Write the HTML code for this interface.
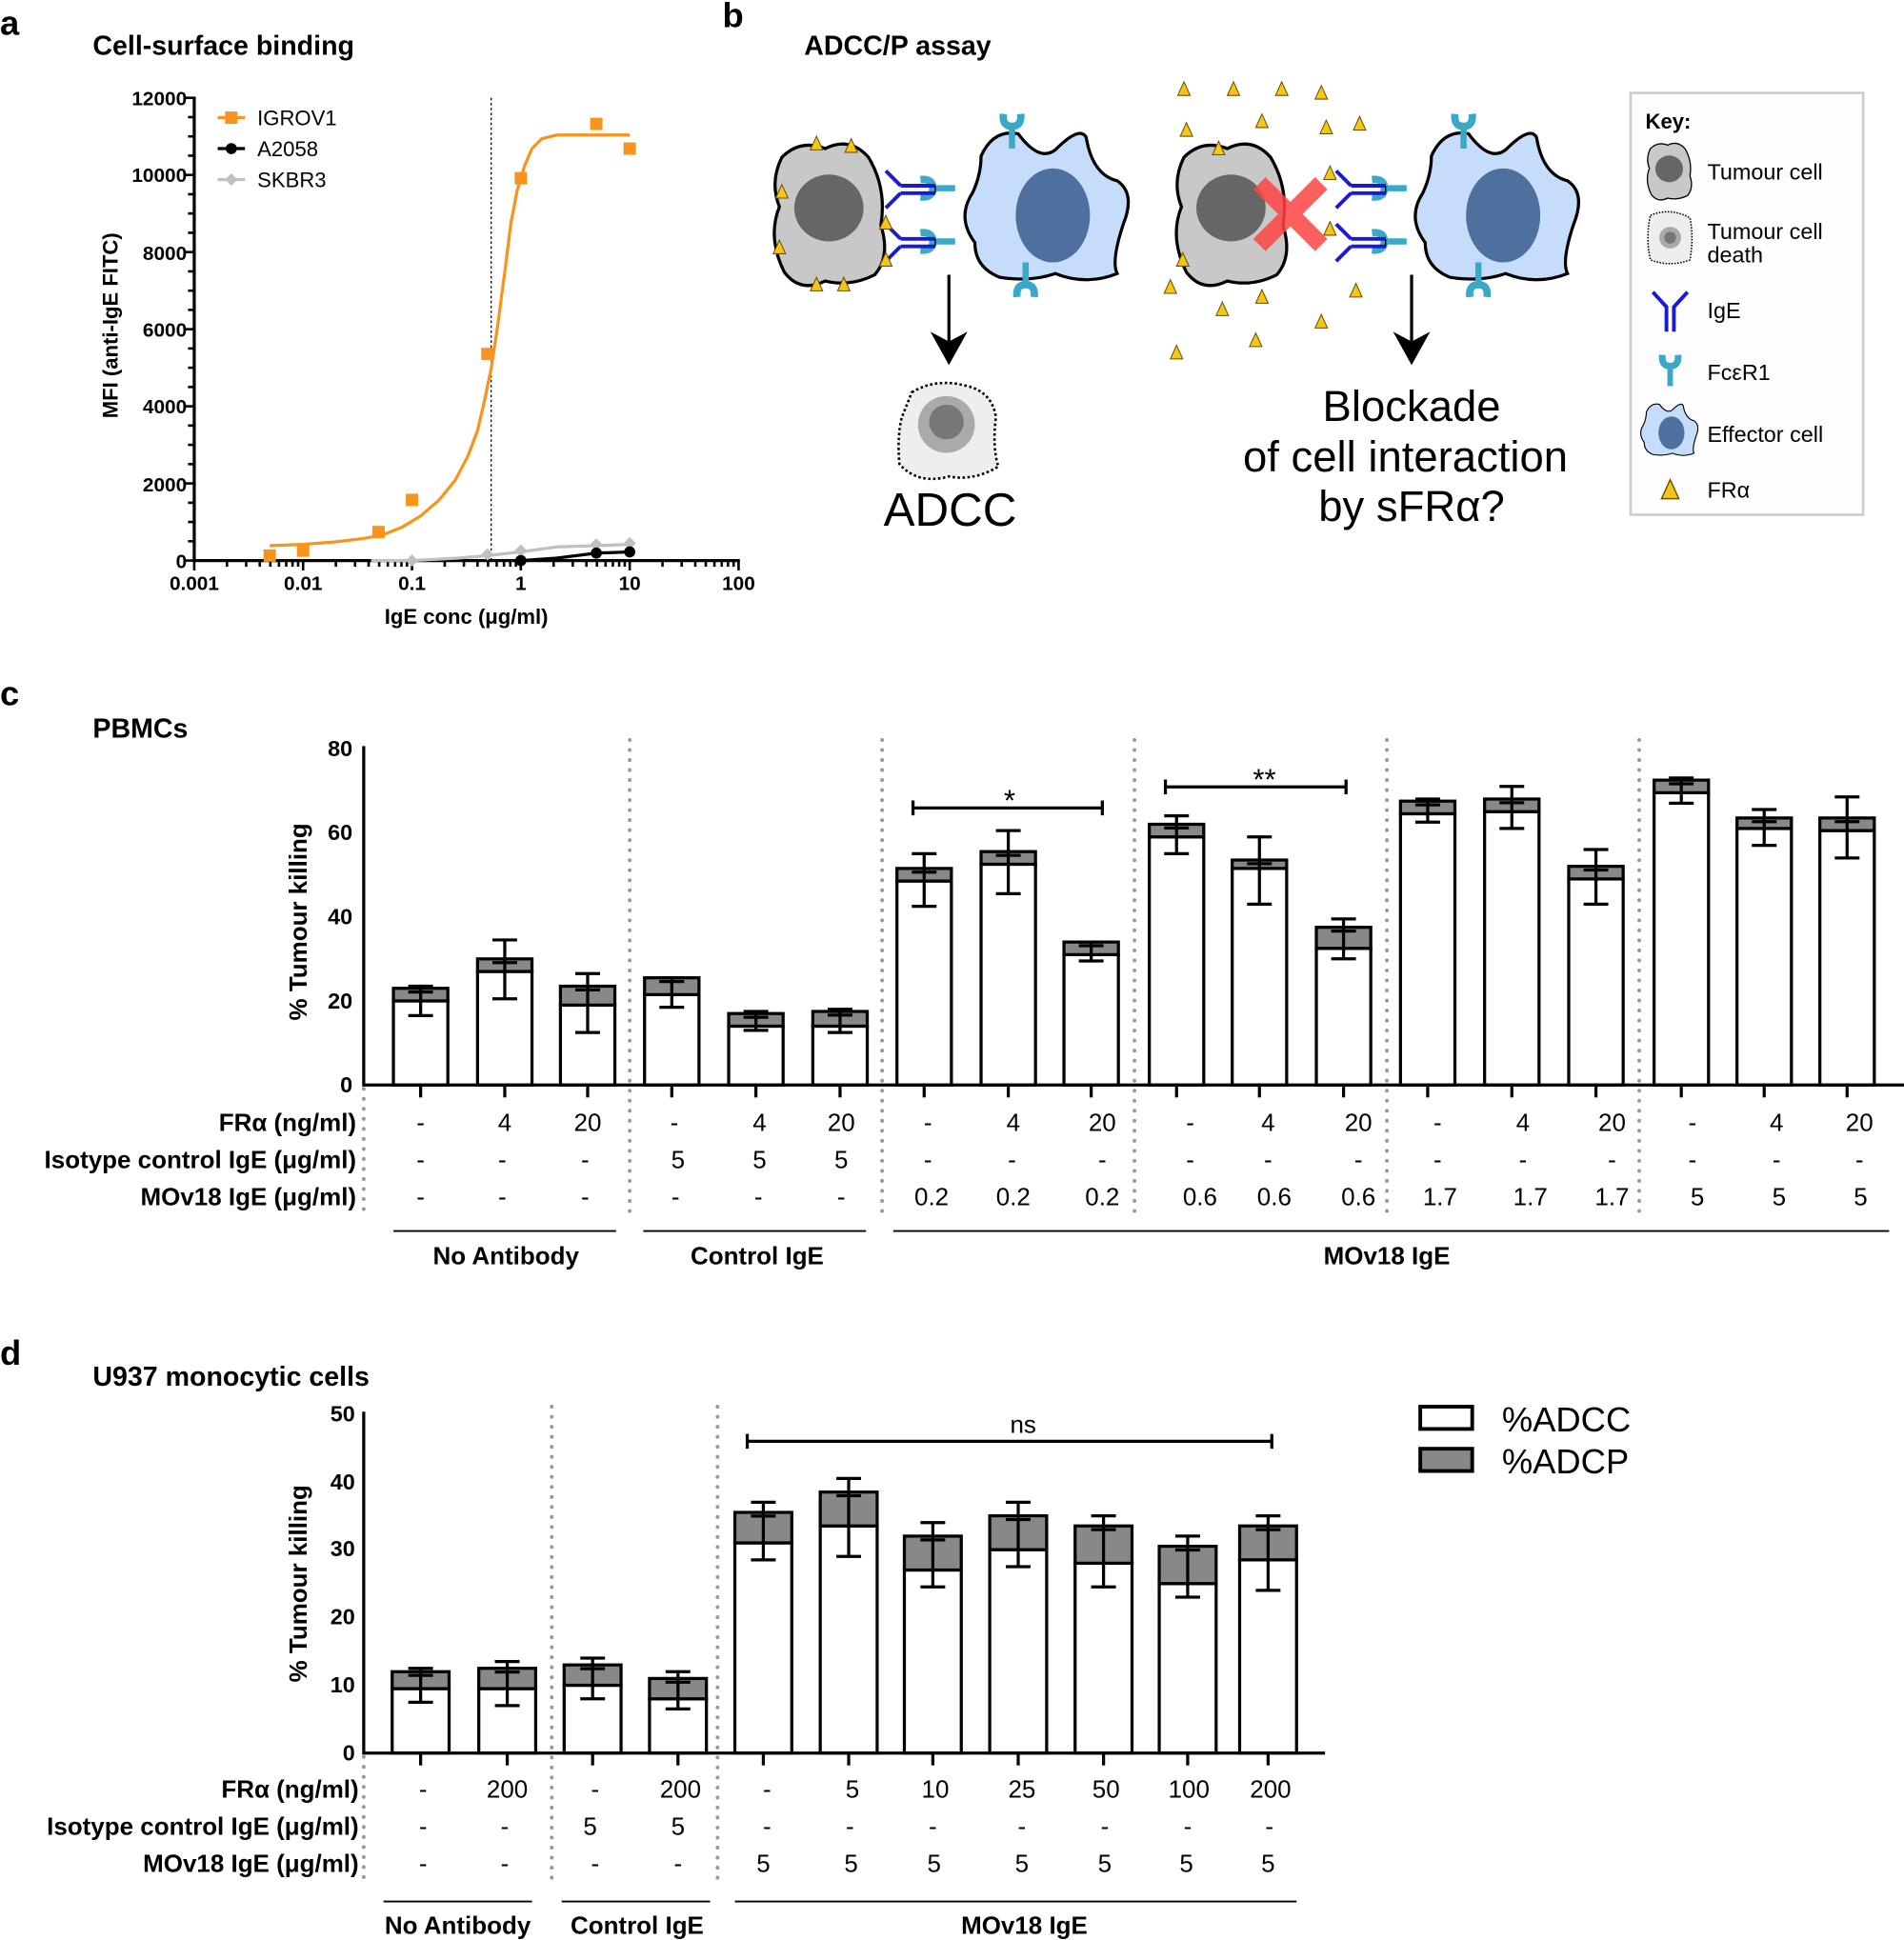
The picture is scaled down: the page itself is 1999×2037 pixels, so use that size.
<!DOCTYPE html>
<html><head><meta charset="utf-8"><style>
html,body{margin:0;padding:0;background:#fff;}
svg{display:block;}
text{font-family:"Liberation Sans",Arial,sans-serif;}
.b{font-weight:bold;}
</style></head><body>
<svg id="s" width="1999" height="2037" viewBox="0 0 1539 1568" xmlns="http://www.w3.org/2000/svg">
<rect width="1539" height="1568" fill="#fff"/>
<g class="b" font-size="28" font-weight="bold">
<text x="0" y="28">a</text><text x="584" y="22">b</text><text x="0" y="570">c</text><text x="0" y="1103">d</text>
</g>
<g font-size="22" font-weight="bold">
<text x="75" y="44">Cell-surface binding</text>
<text x="650" y="44">ADCC/P assay</text>
<text x="75" y="596">PBMCs</text>
<text x="75" y="1120">U937 monocytic cells</text>
</g>

<!-- ===== Panel a ===== -->
<g stroke="#000" stroke-width="2.5" fill="none">
<line x1="157" y1="78" x2="157" y2="454"/>
<line x1="156" y1="453" x2="598" y2="453"/>
</g>
<g stroke="#000" stroke-width="2" id="aticks"></g>
<g font-size="16" font-weight="bold" text-anchor="end">
<text x="151" y="459">0</text><text x="151" y="397">2000</text><text x="151" y="334">4000</text>
<text x="151" y="272">6000</text><text x="151" y="210">8000</text><text x="151" y="147">10000</text><text x="151" y="85">12000</text>
</g>
<g font-size="16" font-weight="bold" text-anchor="middle">
<text x="157" y="477">0.001</text><text x="245" y="477">0.01</text><text x="333" y="477">0.1</text>
<text x="421" y="477">1</text><text x="509" y="477">10</text><text x="597" y="477">100</text>
<text x="377" y="504" font-size="17">IgE conc (μg/ml)</text>
<text transform="translate(95,263) rotate(-90)" font-size="17">MFI (anti-IgE FITC)</text>
</g>
<line x1="397" y1="79" x2="397" y2="453" stroke="#000" stroke-width="1" stroke-dasharray="2,2"/>
<polyline fill="none" stroke="#f7941d" stroke-width="2.5" points="218,441 245,440 270,438 295,435 310,432 325,426 340,417 355,404 368,388 378,369 386,348 392,322 397,298 402,265 408,220 413,180 418,154 424,134 430,120 438,112 450,109 470,109 509,109"/>
<polyline fill="none" stroke="#c0c0c0" stroke-width="2.5" points="300,453 333,453 370,451 394,449 421,446 450,442 482,441 509,440"/>
<polyline fill="none" stroke="#000" stroke-width="2.5" points="421,453 450,451 482,447 509,446"/>
<g fill="#f7941d">
<rect x="213" y="444" width="10" height="10"/><rect x="240" y="440" width="10" height="10"/><rect x="301" y="425" width="10" height="10"/>
<rect x="328" y="399" width="10" height="10"/><rect x="389" y="281" width="10" height="10"/><rect x="416" y="139" width="10" height="10"/>
<rect x="477" y="95" width="10" height="10"/><rect x="504" y="115" width="10" height="10"/>
</g>
<g fill="#c0c0c0"><path d="M333,448 l5,5 -5,5 -5,-5z M394,443 l5,5 -5,5 -5,-5z M421,440 l5,5 -5,5 -5,-5z M482,435 l5,5 -5,5 -5,-5z M509,434 l5,5 -5,5 -5,-5z"/></g>
<g fill="#000"><circle cx="421" cy="453" r="4.5"/><circle cx="482" cy="447" r="4.5"/><circle cx="509" cy="446" r="4.5"/></g>
<line x1="176" y1="95" x2="198" y2="95" stroke="#f7941d" stroke-width="2.5"/><rect x="182" y="90" width="10" height="10" fill="#f7941d"/>
<line x1="176" y1="120" x2="198" y2="120" stroke="#000" stroke-width="2.5"/><circle cx="187" cy="120" r="4.5"/>
<line x1="176" y1="145" x2="198" y2="145" stroke="#c0c0c0" stroke-width="2.5"/><path d="M187,140 l5,5 -5,5 -5,-5z" fill="#c0c0c0"/>
<g font-size="17"><text x="208" y="101">IGROV1</text><text x="208" y="126">A2058</text><text x="208" y="151">SKBR3</text></g>

<!-- ===== Panel b ===== -->
<defs>
<g id="tum">
<path d="M-40,-45 Q-25,-60 -5,-52 Q15,-62 30,-45 Q45,-20 40,10 Q48,35 35,50 Q15,60 -5,55 Q-25,65 -38,48 Q-52,20 -42,-5 Q-50,-25 -40,-45z" fill="#c8c8c8" stroke="#000" stroke-width="2.5"/>
<ellipse cx="-2" cy="-4" rx="28" ry="27" fill="#666"/>
</g>
<g id="eff">
<path d="M-55,-40 Q-45,-62 -25,-58 Q-8,-35 5,-45 Q25,-65 30,-55 Q35,-25 55,-20 Q70,-10 60,15 Q50,45 55,55 Q30,65 5,55 Q-15,62 -40,58 Q-60,50 -60,30 Q-75,10 -62,-10 Q-55,-25 -55,-40z" fill="#c5dcfa" stroke="#000" stroke-width="2.5"/>
<ellipse cx="3" cy="8" rx="30" ry="38" fill="#4f6f9e"/>
</g>
<path id="tri" d="M0,-6 L5,5 L-5,5z" fill="#f5c518" stroke="#6b5200" stroke-width="0.8"/>
<g id="rec" fill="none" stroke="#3aa9c8" stroke-width="5"><line x1="0" y1="0" x2="0" y2="-18"/><path d="M-7,-28 Q-8,-18 0,-18 Q8,-18 7,-28" stroke-width="6"/></g>
<g id="ige" fill="none" stroke="#1a1ad0" stroke-width="3"><path d="M0,-3 H28 M0,3 H28 M0,-3 L-12,-15 M0,3 L-12,15"/><path d="M28,-3 V3" stroke="#000" stroke-width="1"/></g>
</defs>
<use href="#tum" x="672" y="172"/>
<use href="#eff" x="848" y="166"/>
<use href="#rec" transform="translate(818,120)"/>
<use href="#rec" transform="translate(829,212) rotate(180)"/>
<use href="#rec" transform="translate(772,152) rotate(-90)"/>
<use href="#rec" transform="translate(772,195) rotate(-90)"/>
<use href="#ige" x="728" y="153"/><use href="#ige" x="728" y="196"/>
<use href="#tum" x="997" y="172"/>
<use href="#eff" x="1212" y="166"/>
<use href="#rec" transform="translate(1183,120)"/>
<use href="#rec" transform="translate(1195,212) rotate(180)"/>
<use href="#rec" transform="translate(1137,152) rotate(-90)"/>
<use href="#rec" transform="translate(1137,195) rotate(-90)"/>
<use href="#ige" x="1092" y="153"/><use href="#ige" x="1092" y="196"/>
<g>
<use href="#tri" x="660" y="116"/><use href="#tri" x="688" y="118"/><use href="#tri" x="630" y="200"/><use href="#tri" x="632" y="155"/><use href="#tri" x="660" y="230"/><use href="#tri" x="682" y="230"/><use href="#tri" x="716" y="180"/><use href="#tri" x="716" y="210"/>
<use href="#tri" x="957" y="72"/><use href="#tri" x="997" y="72"/><use href="#tri" x="1036" y="72"/><use href="#tri" x="1068" y="75"/>
<use href="#tri" x="959" y="105"/><use href="#tri" x="1020" y="98"/><use href="#tri" x="1072" y="103"/><use href="#tri" x="1099" y="100"/>
<use href="#tri" x="946" y="232"/><use href="#tri" x="1020" y="240"/><use href="#tri" x="1096" y="235"/><use href="#tri" x="988" y="250"/>
<use href="#tri" x="1068" y="260"/><use href="#tri" x="1015" y="275"/><use href="#tri" x="951" y="285"/>
<use href="#tri" x="985" y="120"/><use href="#tri" x="956" y="210"/><use href="#tri" x="1075" y="185"/><use href="#tri" x="1075" y="140"/>
</g>
<g stroke="#f44" stroke-width="14" opacity="0.85"><line x1="1018" y1="148" x2="1068" y2="198"/><line x1="1068" y1="148" x2="1018" y2="198"/></g>
<g stroke="#000" stroke-width="2.5"><line x1="767" y1="222" x2="767" y2="285"/><line x1="1141" y1="222" x2="1141" y2="285"/></g>
<path d="M752,268 L767,295 L782,268 L767,276z M1126,268 L1141,295 L1156,268 L1141,276z"/>
<g transform="translate(767,347)">
<path d="M-30,-30 Q-10,-42 15,-35 Q35,-30 38,-10 Q35,15 40,30 Q20,42 0,38 Q-25,45 -40,28 Q-42,5 -38,-10z" fill="#eee" stroke="#000" stroke-width="2" stroke-dasharray="2,2"/>
<circle cx="-2" cy="-4" r="23" fill="#aaa"/><circle cx="-2" cy="-6" r="14" fill="#777"/>
</g>
<text x="768" y="425" font-size="38" text-anchor="middle">ADCC</text>
<g font-size="35" text-anchor="middle"><text x="1141" y="340">Blockade</text><text x="1136" y="381">of cell interaction</text><text x="1141" y="421">by sFRα?</text></g>
<rect x="1318" y="75" width="188" height="341" fill="#fdfdfd" stroke="#ccc" stroke-width="2"/>
<text x="1330" y="104" font-size="17" font-weight="bold">Key:</text>
<g transform="translate(1350,138) scale(0.4)"><use href="#tum"/></g>
<g transform="translate(1350,192) scale(0.4)"><path d="M-40,-45 Q0,-62 40,-40 Q48,0 40,45 Q0,60 -40,45 Q-50,0 -40,-45z" fill="#eee" stroke="#000" stroke-dasharray="3,3" stroke-width="3"/><circle r="22" fill="#aaa"/><circle r="12" fill="#777"/></g>
<g transform="translate(1350,250)" fill="none" stroke="#1a1ad0" stroke-width="3"><path d="M-3,18 V-2 L-14,-14 M3,18 V-2 L14,-14"/></g>
<use href="#rec" transform="translate(1350,312) scale(0.9)"/>
<g transform="translate(1350,347) scale(0.35)"><use href="#eff"/></g>
<use href="#tri" transform="translate(1350,396) scale(1.4)"/>
<g font-size="18"><text x="1380" y="145">Tumour cell</text><text x="1380" y="193">Tumour cell</text><text x="1380" y="212">death</text><text x="1380" y="257">IgE</text><text x="1380" y="307">FcεR1</text><text x="1380" y="357">Effector cell</text><text x="1380" y="402">FRα</text></g>

<!-- ===== Panel c ===== -->
<g id="cbars"></g>
<g stroke="#000" stroke-width="2.5"><line x1="294" y1="603" x2="294" y2="878"/><line x1="293" y1="877" x2="1539" y2="877"/></g>
<g font-size="18" font-weight="bold" text-anchor="end"><text x="285" y="883">0</text><text x="285" y="815">20</text><text x="285" y="747">40</text><text x="285" y="679">60</text><text x="285" y="611">80</text></g>
<text transform="translate(248,745) rotate(-90)" font-size="20" font-weight="bold" text-anchor="middle">% Tumour killing</text>
<g stroke="#999" stroke-width="3" stroke-dasharray="0.1,8" stroke-linecap="round">
<line x1="294" y1="880" x2="294" y2="985"/><line x1="509" y1="598" x2="509" y2="985"/><line x1="713" y1="598" x2="713" y2="985"/><line x1="917" y1="598" x2="917" y2="985"/><line x1="1121" y1="598" x2="1121" y2="985"/><line x1="1325" y1="598" x2="1325" y2="985"/>
</g>
<g stroke="#000" stroke-width="2.5"><path d="M738,647 V659 M738,653 H891 M891,647 V659 M942,630 V642 M942,636 H1088 M1088,630 V642"/></g>
<text x="816" y="655" font-size="24" text-anchor="middle">*</text><text x="1022" y="638" font-size="24" text-anchor="middle">**</text>
<g font-size="20" font-weight="bold" text-anchor="end"><text x="288" y="914">FRα (ng/ml)</text><text x="288" y="944">Isotype control IgE (μg/ml)</text><text x="288" y="974">MOv18 IgE (μg/ml)</text></g>
<g font-size="20" text-anchor="middle">
<text x="340" y="914">-</text><text x="408" y="914">4</text><text x="475" y="914">20</text><text x="545" y="914">-</text><text x="614" y="914">4</text><text x="680" y="914">20</text><text x="750" y="914">-</text><text x="819" y="914">4</text><text x="891" y="914">20</text><text x="962" y="914">-</text><text x="1025" y="914">4</text><text x="1098" y="914">20</text><text x="1162" y="914">-</text><text x="1231" y="914">4</text><text x="1303" y="914">20</text><text x="1368" y="914">-</text><text x="1436" y="914">4</text><text x="1503" y="914">20</text>
<text x="340" y="944">-</text><text x="406" y="944">-</text><text x="473" y="944">-</text><text x="548" y="944">5</text><text x="614" y="944">5</text><text x="680" y="944">5</text><text x="750" y="944">-</text><text x="818" y="944">-</text><text x="891" y="944">-</text><text x="962" y="944">-</text><text x="1025" y="944">-</text><text x="1098" y="944">-</text><text x="1162" y="944">-</text><text x="1231" y="944">-</text><text x="1303" y="944">-</text><text x="1368" y="944">-</text><text x="1436" y="944">-</text><text x="1503" y="944">-</text>
<text x="340" y="974">-</text><text x="406" y="974">-</text><text x="473" y="974">-</text><text x="546" y="974">-</text><text x="613" y="974">-</text><text x="680" y="974">-</text><text x="753" y="974">0.2</text><text x="819" y="974">0.2</text><text x="891" y="974">0.2</text><text x="970" y="974">0.6</text><text x="1030" y="974">0.6</text><text x="1098" y="974">0.6</text><text x="1164" y="974">1.7</text><text x="1237" y="974">1.7</text><text x="1303" y="974">1.7</text><text x="1372" y="974">5</text><text x="1438" y="974">5</text><text x="1504" y="974">5</text>
</g>
<g stroke="#000" stroke-width="1.5"><line x1="318" y1="995" x2="498" y2="995"/><line x1="520" y1="995" x2="700" y2="995"/><line x1="722" y1="995" x2="1527" y2="995"/></g>
<g font-size="20" font-weight="bold" text-anchor="middle"><text x="409" y="1022">No Antibody</text><text x="612" y="1022">Control IgE</text><text x="1121" y="1022">MOv18 IgE</text></g>

<!-- ===== Panel d ===== -->
<g id="dbars"></g>
<g stroke="#000" stroke-width="2.5"><line x1="294" y1="1141" x2="294" y2="1418"/><line x1="293" y1="1417" x2="1071" y2="1417"/></g>
<g font-size="18" font-weight="bold" text-anchor="end"><text x="287" y="1423">0</text><text x="287" y="1368">10</text><text x="287" y="1313">20</text><text x="287" y="1258">30</text><text x="287" y="1204">40</text><text x="287" y="1149">50</text></g>
<text transform="translate(248,1280) rotate(-90)" font-size="20" font-weight="bold" text-anchor="middle">% Tumour killing</text>
<g stroke="#999" stroke-width="3" stroke-dasharray="0.1,8" stroke-linecap="round">
<line x1="294" y1="1420" x2="294" y2="1525"/><line x1="446" y1="1137" x2="446" y2="1525"/><line x1="580" y1="1137" x2="580" y2="1525"/>
</g>
<g stroke="#000" stroke-width="2.5"><path d="M604,1159 V1171 M604,1165 H1028 M1028,1159 V1171"/></g>
<text x="827" y="1158" font-size="20" text-anchor="middle">ns</text>
<g font-size="20" font-weight="bold" text-anchor="end"><text x="290" y="1453">FRα (ng/ml)</text><text x="290" y="1483">Isotype control IgE (μg/ml)</text><text x="290" y="1513">MOv18 IgE (μg/ml)</text></g>
<g font-size="20" text-anchor="middle">
<text x="342" y="1453">-</text><text x="410" y="1453">200</text><text x="481" y="1453">-</text><text x="550" y="1453">200</text><text x="620" y="1453">-</text><text x="689" y="1453">5</text><text x="756" y="1453">10</text><text x="826" y="1453">25</text><text x="894" y="1453">50</text><text x="961" y="1453">100</text><text x="1027" y="1453">200</text>
<text x="342" y="1483">-</text><text x="408" y="1483">-</text><text x="477" y="1483">5</text><text x="548" y="1483">5</text><text x="620" y="1483">-</text><text x="687" y="1483">-</text><text x="754" y="1483">-</text><text x="826" y="1483">-</text><text x="893" y="1483">-</text><text x="960" y="1483">-</text><text x="1026" y="1483">-</text>
<text x="342" y="1513">-</text><text x="408" y="1513">-</text><text x="481" y="1513">-</text><text x="548" y="1513">-</text><text x="617" y="1513">5</text><text x="688" y="1513">5</text><text x="755" y="1513">5</text><text x="826" y="1513">5</text><text x="893" y="1513">5</text><text x="959" y="1513">5</text><text x="1025" y="1513">5</text>
</g>
<g stroke="#000" stroke-width="1.5"><line x1="310" y1="1537" x2="430" y2="1537"/><line x1="454" y1="1537" x2="574" y2="1537"/><line x1="594" y1="1537" x2="1048" y2="1537"/></g>
<g font-size="20" font-weight="bold" text-anchor="middle"><text x="370" y="1563">No Antibody</text><text x="515" y="1563">Control IgE</text><text x="828" y="1563">MOv18 IgE</text></g>
<rect x="1148" y="1137" width="42" height="18" fill="#fff" stroke="#000" stroke-width="3"/>
<rect x="1148" y="1171" width="42" height="18" fill="#888" stroke="#000" stroke-width="3"/>
<g font-size="28"><text x="1214" y="1157">%ADCC</text><text x="1214" y="1191">%ADCP</text></g>
</svg>
<script>
(function(){
var NS="http://www.w3.org/2000/svg";
function el(p,t,a){var e=document.createElementNS(NS,t);for(var k in a)e.setAttribute(k,a[k]);p.appendChild(e);return e;}
var at=document.getElementById('aticks');
for(var v=0;v<=12000;v+=500){var y=453-v*0.03117;el(at,'line',{x1:v%2000==0?149:152,y1:y,x2:157,y2:y});}
for(var d=-3;d<2;d++){for(var m=1;m<10;m++){var x=157+88*(d+3+Math.log10(m));el(at,'line',{x1:x,y1:453,x2:x,y2:m==1?461:458});}}
el(at,'line',{x1:597,y1:453,x2:597,y2:461});
function bars(g,y0,s,w,data){
 g=document.getElementById(g);
 data.forEach(function(d){var cx=d[0],t=d[1],wv=d[2],lo=d[3],hi=d[4];
  var yt=y0-t*s,yw=y0-wv*s;
  el(g,'rect',{x:cx-w/2,y:yw,width:w,height:y0-yw,fill:'#fff',stroke:'#000','stroke-width':2.5});
  el(g,'rect',{x:cx-w/2,y:yt,width:w,height:yw-yt,fill:'#888',stroke:'#000','stroke-width':2.5});
  var c=el(g,'g',{stroke:'#000','stroke-width':2.5});
  el(c,'line',{x1:cx,y1:y0-lo*s,x2:cx,y2:y0-hi*s});
  el(c,'line',{x1:cx-10,y1:y0-lo*s,x2:cx+10,y2:y0-lo*s});
  el(c,'line',{x1:cx-10,y1:y0-hi*s,x2:cx+10,y2:y0-hi*s});
  el(c,'line',{x1:cx-10,y1:yt+3,x2:cx+10,y2:yt+3});
  el(c,'line',{x1:cx,y1:y0,x2:cx,y2:y0+10});
 });
}
bars('cbars',877,3.4,44,[[340,23,20,16.5,23.5],[408,30,27,20.5,34.5],[475,23.5,19,12.5,26.5],[543,25.5,21.5,18.5,25.5],[611,17,14,13,17.5],[679,17.5,14,12.5,18],[747,51.5,48.5,42.5,55],[815,55.5,52.5,45.5,60.5],[882,34,31,29.5,34],[951,62,59,55,64],[1018,53.5,51.5,43,59],[1086,37.5,32.5,30,39.5],[1154,67.5,64.5,62.5,68],[1222,68,65,61,71],[1290,52,49,43,56],[1359,72.5,69.5,67,73],[1426,63.5,61,57,65.5],[1493,63.5,60.5,54,68.5]]);
bars('dbars',1417,5.48,46,[[340,12,9.5,7.5,12.5],[410,12.5,9.5,7,13.5],[479,13,10,8,14],[548,11,8,6.5,12],[617,35.5,31,28.5,37],[686,38.5,33.5,29,40.5],[754,32,27,24.5,34],[823,35,30,27.5,37],[892,33.5,28,24.5,35],[960,30.5,25,23,32],[1025,33.5,28.5,24,35]]);
})();
</script>
</body></html>
